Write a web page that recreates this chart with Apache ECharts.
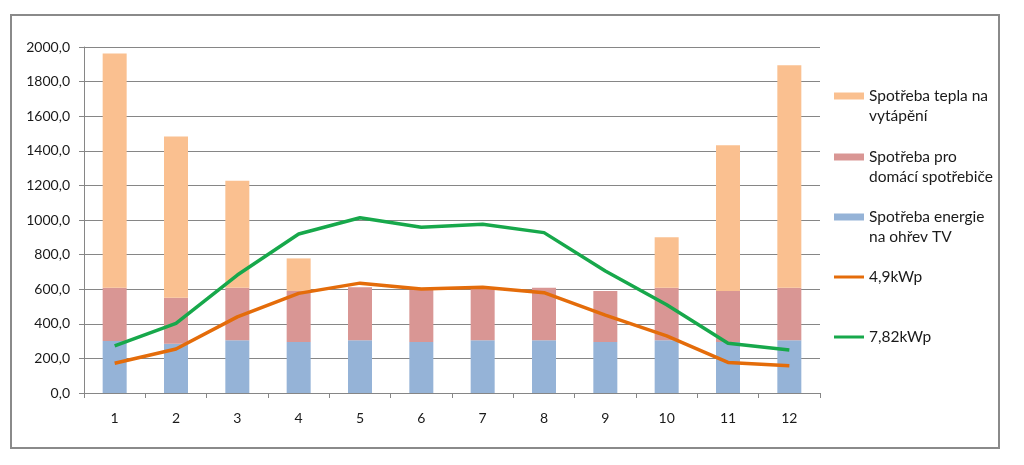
<!DOCTYPE html>
<html>
<head>
<meta charset="utf-8">
<script src="https://cdn.jsdelivr.net/npm/echarts@6/dist/echarts.min.js"></script>
<style>
html,body{margin:0;padding:0;background:#fff;}
#c{width:1024px;height:465px;}
</style>
</head>
<body>
<div id="c"></div>
<script>
var months = ['1','2','3','4','5','6','7','8','9','10','11','12'];
var yTicks = [0,200,400,600,800,1000,1200,1400,1600,1800,2000];
var hotWater = [300, 285, 305, 295, 305, 295, 305, 305, 295, 305, 295, 305];
var appliances = [308, 266, 303, 295, 306, 300, 303, 303, 295, 303, 295, 303];
var heating = [1355, 931, 619, 188, 0, 0, 0, 0, 0, 292, 842, 1286];
var pv49 = [172, 254, 440, 576, 635, 601, 611, 580, 450, 330, 177, 158];
var pv782 = [272, 403, 682, 919, 1013, 958, 975, 927, 705, 510, 287, 249];

var names = ['Spotřeba tepla na vytápění', 'Spotřeba pro domácí spotřebiče', 'Spotřeba energie na ohřev TV', '4,9kWp', '7,82kWp'];
var labelText = {};
labelText[names[0]] = '\nSpotřeba tepla na\nvytápění';
labelText[names[1]] = '\nSpotřeba pro\ndomácí spotřebiče';
labelText[names[2]] = '\nSpotřeba energie\nna ohřev TV';
labelText[names[3]] = '4,9kWp';
labelText[names[4]] = '7,82kWp';

var FONT = 'Lato, "Open Sans", sans-serif';
var gridColor = '#868686';

function mkLegend(name, top, isLine) {
  return {
    data: [{name: name, icon: 'rect'}],
    left: 834,
    top: top,
    padding: 0,
    itemWidth: 30,
    itemHeight: isLine ? 3 : 7,
    itemGap: 0,
    selectedMode: false,
    formatter: function (n) { return labelText[n]; },
    textStyle: {
      fontFamily: FONT,
      fontSize: 15.5,
      color: '#1a1a1a',
      lineHeight: 20
    }
  };
}

var chart = echarts.init(document.getElementById('c'), null, {renderer: 'canvas'});
chart.setOption({
  animation: false,
  backgroundColor: '#ffffff',
  graphic: [{
    type: 'rect',
    shape: {x: 11, y: 15, width: 988, height: 433},
    style: {fill: 'none', stroke: '#8a8a8a', lineWidth: 2},
    silent: true,
    z: -1
  }],
  grid: {left: 84, right: 204, top: 47, bottom: 72, containLabel: false},
  legend: [
    mkLegend(names[0], 66, false),
    mkLegend(names[1], 127, false),
    mkLegend(names[2], 187, false),
    mkLegend(names[3], 267, true),
    mkLegend(names[4], 327, true)
  ],
  xAxis: {
    type: 'category',
    data: months,
    boundaryGap: true,
    axisLine: {lineStyle: {color: gridColor, width: 1}},
    axisTick: {show: true, inside: false, length: 5, alignWithLabel: false, lineStyle: {color: gridColor}},
    axisLabel: {fontFamily: FONT, fontSize: 14, color: '#1a1a1a', margin: 18}
  },
  yAxis: {
    type: 'value',
    min: 0,
    max: 2000,
    interval: 200,
    axisLine: {show: true, lineStyle: {color: gridColor, width: 1}},
    axisTick: {show: true, inside: false, length: 5, lineStyle: {color: gridColor}},
    splitLine: {show: true, lineStyle: {color: gridColor, width: 1}},
    axisLabel: {
      fontFamily: FONT, fontSize: 14, color: '#1a1a1a', margin: 14,
      formatter: function (v) { return v.toFixed(1).replace('.', ','); }
    }
  },
  series: [
    {name: names[2], type: 'bar', stack: 's', data: hotWater, barWidth: 24, itemStyle: {color: '#95B3D7'}},
    {name: names[1], type: 'bar', stack: 's', data: appliances, barWidth: 24, itemStyle: {color: '#D99694'}},
    {name: names[0], type: 'bar', stack: 's', data: heating, barWidth: 24, itemStyle: {color: '#FAC090'}},
    {name: names[3], type: 'line', data: pv49, symbol: 'none', lineStyle: {color: '#E46C0A', width: 3.5}, itemStyle: {color: '#E46C0A'}, z: 5},
    {name: names[4], type: 'line', data: pv782, symbol: 'none', lineStyle: {color: '#17A84B', width: 3.5}, itemStyle: {color: '#17A84B'}, z: 5}
  ]
});
</script>
</body>
</html>
